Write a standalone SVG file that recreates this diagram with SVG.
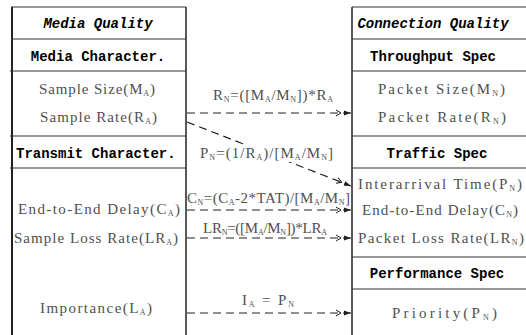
<svg xmlns="http://www.w3.org/2000/svg" width="526" height="335" viewBox="0 0 526 335">
<defs>
<style>
.t{font-family:"Liberation Serif","DejaVu Serif",serif;font-size:15px;fill:#505050}
.h{font-family:"Liberation Mono","DejaVu Sans Mono",monospace;font-size:14px;font-weight:bold;fill:#000}
.hi{font-family:"Liberation Mono","DejaVu Sans Mono",monospace;font-size:14px;font-weight:bold;font-style:italic;fill:#000}
.m{text-anchor:middle}
.s{font-size:8px}
.ln{stroke:#333;stroke-width:1;fill:none}
.bd{stroke:#222;stroke-width:2;fill:none}
.vb{stroke:#222;stroke-width:1.5;fill:none}
.c{stroke:#222;stroke-width:1.2;stroke-dasharray:8 5;fill:none;marker-end:url(#ah)}
</style>
<marker id="ah" markerUnits="userSpaceOnUse" markerWidth="16" markerHeight="10" viewBox="-16 -5 16 10" refX="0" refY="0" orient="auto">
<path d="M-15,-3 L-10,0 L-15,3" stroke="#222" stroke-width="1" fill="none"/>
<path d="M-7,-2.5 L0,0 L-7,2.5 Z" fill="#222"/>
</marker>
</defs>
<rect width="526" height="335" fill="#fff"/>

<g id="media-quality">
<line class="bd" x1="12" y1="7" x2="12" y2="335"/>
<line class="vb" x1="186" y1="7" x2="186" y2="335"/>
<line class="ln" x1="11" y1="7" x2="186" y2="7"/>
<line class="ln" x1="11" y1="39" x2="186" y2="39"/>
<line class="ln" x1="10" y1="71" x2="186" y2="71"/>
<line class="ln" x1="10" y1="136" x2="186" y2="136"/>
<line class="ln" x1="10" y1="168" x2="186" y2="168"/>
<text class="hi m" x="98" y="28">Media Quality</text>
<g id="media-character"><text class="h m" x="98" y="61">Media Character.</text></g>
<g id="sample-size"><text class="t" x="39" y="94" textLength="116">Sample Size(M<tspan class="s" dy="2">A</tspan><tspan dy="-2">)</tspan></text></g>
<g id="sample-rate"><text class="t" x="40" y="122" textLength="117">Sample Rate(R<tspan class="s" dy="2">A</tspan><tspan dy="-2">)</tspan></text></g>
<g id="transmit-character"><text class="h" x="16" y="158">Transmit Character.</text></g>
<g id="e2e-delay-a"><text class="t" x="18" y="214" textLength="162">End-to-End Delay(C<tspan class="s" dy="2">A</tspan><tspan dy="-2">)</tspan></text></g>
<g id="sample-loss"><text class="t" x="14" y="243" textLength="164">Sample Loss Rate(LR<tspan class="s" dy="2">A</tspan><tspan dy="-2">)</tspan></text></g>
<g id="importance"><text class="t" x="40" y="313" textLength="112">Importance(L<tspan class="s" dy="2">A</tspan><tspan dy="-2">)</tspan></text></g>
</g>

<g id="connection-quality">
<line class="vb" x1="352" y1="7" x2="352" y2="335"/>
<line class="ln" x1="352" y1="7" x2="526" y2="7"/>
<line class="ln" x1="352" y1="39" x2="526" y2="39"/>
<line class="ln" x1="352" y1="71" x2="526" y2="71"/>
<line class="ln" x1="352" y1="136" x2="526" y2="136"/>
<line class="ln" x1="352" y1="168" x2="526" y2="168"/>
<line class="ln" x1="352" y1="257" x2="526" y2="257"/>
<line class="ln" x1="352" y1="289" x2="526" y2="289"/>
<text class="hi m" x="433" y="28">Connection Quality</text>
<g id="throughput-spec"><text class="h m" x="433" y="61">Throughput Spec</text></g>
<g id="packet-size"><text class="t" x="378" y="94" textLength="127">Packet Size(M<tspan class="s" dy="2">N</tspan><tspan dy="-2">)</tspan></text></g>
<g id="packet-rate"><text class="t" x="378" y="122" textLength="128">Packet Rate(R<tspan class="s" dy="2">N</tspan><tspan dy="-2">)</tspan></text></g>
<g id="traffic-spec"><text class="h m" x="437" y="158">Traffic Spec</text></g>
<g id="interarrival"><text class="t" x="358" y="189" textLength="164">Interarrival Time(P<tspan class="s" dy="2">N</tspan><tspan dy="-2">)</tspan></text></g>
<g id="e2e-delay-n"><text class="t" x="362" y="215" textLength="156">End-to-End Delay(C<tspan class="s" dy="2">N</tspan><tspan dy="-2">)</tspan></text></g>
<g id="packet-loss"><text class="t" x="358" y="243" textLength="166">Packet Loss Rate(LR<tspan class="s" dy="2">N</tspan><tspan dy="-2">)</tspan></text></g>
<g id="performance-spec"><text class="h m" x="437" y="278">Performance Spec</text></g>
<g id="priority"><text class="t" x="392" y="318" textLength="105">Priority(P<tspan class="s" dy="2">N</tspan><tspan dy="-2">)</tspan></text></g>
</g>

<g id="connectors">
<line class="c" x1="187" y1="113" x2="351" y2="113"/>
<line class="c" x1="187" y1="122" x2="351" y2="186"/>
<line class="c" x1="187" y1="210" x2="351" y2="210"/>
<line class="c" x1="187" y1="238" x2="351" y2="238"/>
<line class="c" x1="187" y1="313" x2="351" y2="313"/>
<text class="t" x="213" y="100" textLength="120">R<tspan class="s" dy="2">N</tspan><tspan dy="-2">=([M</tspan><tspan class="s" dy="2">A</tspan><tspan dy="-2">/M</tspan><tspan class="s" dy="2">N</tspan><tspan dy="-2">])*R</tspan><tspan class="s" dy="2">A</tspan></text>
<rect x="232" y="145" width="70" height="17" fill="#fff"/>
<text class="t" x="200" y="158" textLength="133">P<tspan class="s" dy="2">N</tspan><tspan dy="-2">=(1/R</tspan><tspan class="s" dy="2">A</tspan><tspan dy="-2">)/[M</tspan><tspan class="s" dy="2">A</tspan><tspan dy="-2">/M</tspan><tspan class="s" dy="2">N</tspan><tspan dy="-2">]</tspan></text>
<text class="t" x="187" y="203" textLength="163">C<tspan class="s" dy="2">N</tspan><tspan dy="-2">=(C</tspan><tspan class="s" dy="2">A</tspan><tspan dy="-2">-2*TAT)/[M</tspan><tspan class="s" dy="2">A</tspan><tspan dy="-2">/M</tspan><tspan class="s" dy="2">N</tspan><tspan dy="-2">]</tspan></text>
<text class="t" x="203" y="233" textLength="124">LR<tspan class="s" dy="2">N</tspan><tspan dy="-2">=([M</tspan><tspan class="s" dy="2">A</tspan><tspan dy="-2">/M</tspan><tspan class="s" dy="2">N</tspan><tspan dy="-2">])*LR</tspan><tspan class="s" dy="2">A</tspan></text>
<text class="t" x="242" y="305" textLength="52">I<tspan class="s" dy="2">A</tspan><tspan dy="-2">  = P</tspan><tspan class="s" dy="2">N</tspan></text>
</g>
</svg>
